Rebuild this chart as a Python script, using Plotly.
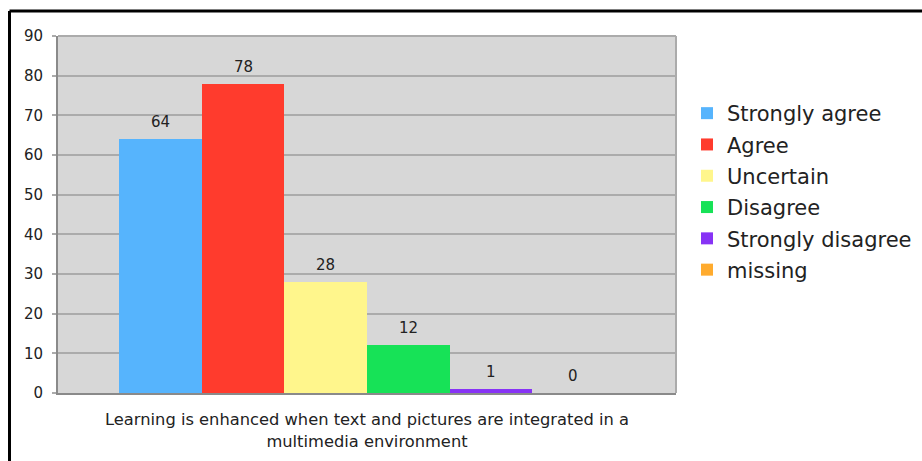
import plotly.graph_objects as go

# Survey responses for a single statement
responses = ["Strongly agree", "Agree", "Uncertain", "Disagree", "Strongly disagree", "missing"]
counts = [64, 78, 28, 12, 1, 0]
colors = ["#56b4fd", "#ff3b2d", "#fff68c", "#17e257", "#8733f5", "#ffab2e"]
statement = "Learning is enhanced when text and pictures are integrated in a<br>multimedia environment"
y_ticks = list(range(0, 100, 10))

FONT = "DejaVu Sans, Verdana, sans-serif"

fig = go.Figure()
for name, val, col in zip(responses, counts, colors):
    fig.add_trace(go.Bar(
        x=[name], y=[val], name=name, legendgroup=name,
        marker=dict(color=col, line=dict(width=0)),
        hoverinfo="name+y",
    ))
    # value label above each bar
    fig.add_annotation(
        x=name, y=val, text=str(val), showarrow=False,
        yanchor="bottom", yshift=6,
        font=dict(family=FONT, size=15, color="#222"),
    )

L, T, W, H = 58, 36, 618, 357  # plot area in pixels
FW, FH = 922, 461
px = lambda v: (v - L) / W
py = lambda v: (T + H - v) / H

# outer black frame (top and left edges)
fig.add_shape(type="line", xref="paper", yref="paper",
              x0=px(9.5), x1=px(930), y0=py(11), y1=py(11),
              line=dict(color="#000", width=3))
fig.add_shape(type="line", xref="paper", yref="paper",
              x0=px(9.5), x1=px(9.5), y0=py(11), y1=py(470),
              line=dict(color="#000", width=3))

fig.update_layout(
    width=FW, height=FH,
    margin=dict(l=L, r=FW - L - W, t=T, b=FH - T - H, autoexpand=False),
    paper_bgcolor="white",
    plot_bgcolor="#d7d7d7",
    barmode="overlay",
    bargap=0,
    font=dict(family=FONT, color="#222"),
    showlegend=True,
    legend=dict(
        xref="container", yref="container",
        x=687 / FW, y=(FH - 93) / FH, xanchor="left", yanchor="top",
        font=dict(family=FONT, size=21, color="#222"),
        traceorder="grouped", tracegroupgap=1,
        bgcolor="rgba(0,0,0,0)",
    ),
    xaxis=dict(
        type="category", range=[-1.245, 5.245 + 1],
        showticklabels=False, ticks="", showgrid=False,
        showline=True, linecolor="#8a8a8a", linewidth=2, mirror=False,
        title=dict(text=statement, standoff=20,
                   font=dict(family=FONT, size=16.3, color="#222")),
        fixedrange=True,
    ),
    yaxis=dict(
        range=[0, 90], tickvals=y_ticks,
        showgrid=True, gridcolor="#ababab", gridwidth=2,
        showline=True, linecolor="#8a8a8a", linewidth=2,
        ticks="outside", ticklen=4, tickcolor="#ababab", tickwidth=2,
        ticklabelstandoff=6,
        tickfont=dict(family=FONT, size=15, color="#222"),
        zeroline=False,
    ),
)

# light border on top and right of plot area
fig.add_shape(type="line", xref="paper", yref="paper", x0=0, x1=1, y0=1, y1=1,
              line=dict(color="#ababab", width=2))
fig.add_shape(type="line", xref="paper", yref="paper", x0=1, x1=1, y0=0, y1=1,
              line=dict(color="#ababab", width=2))

fig.write_html("out.html")
